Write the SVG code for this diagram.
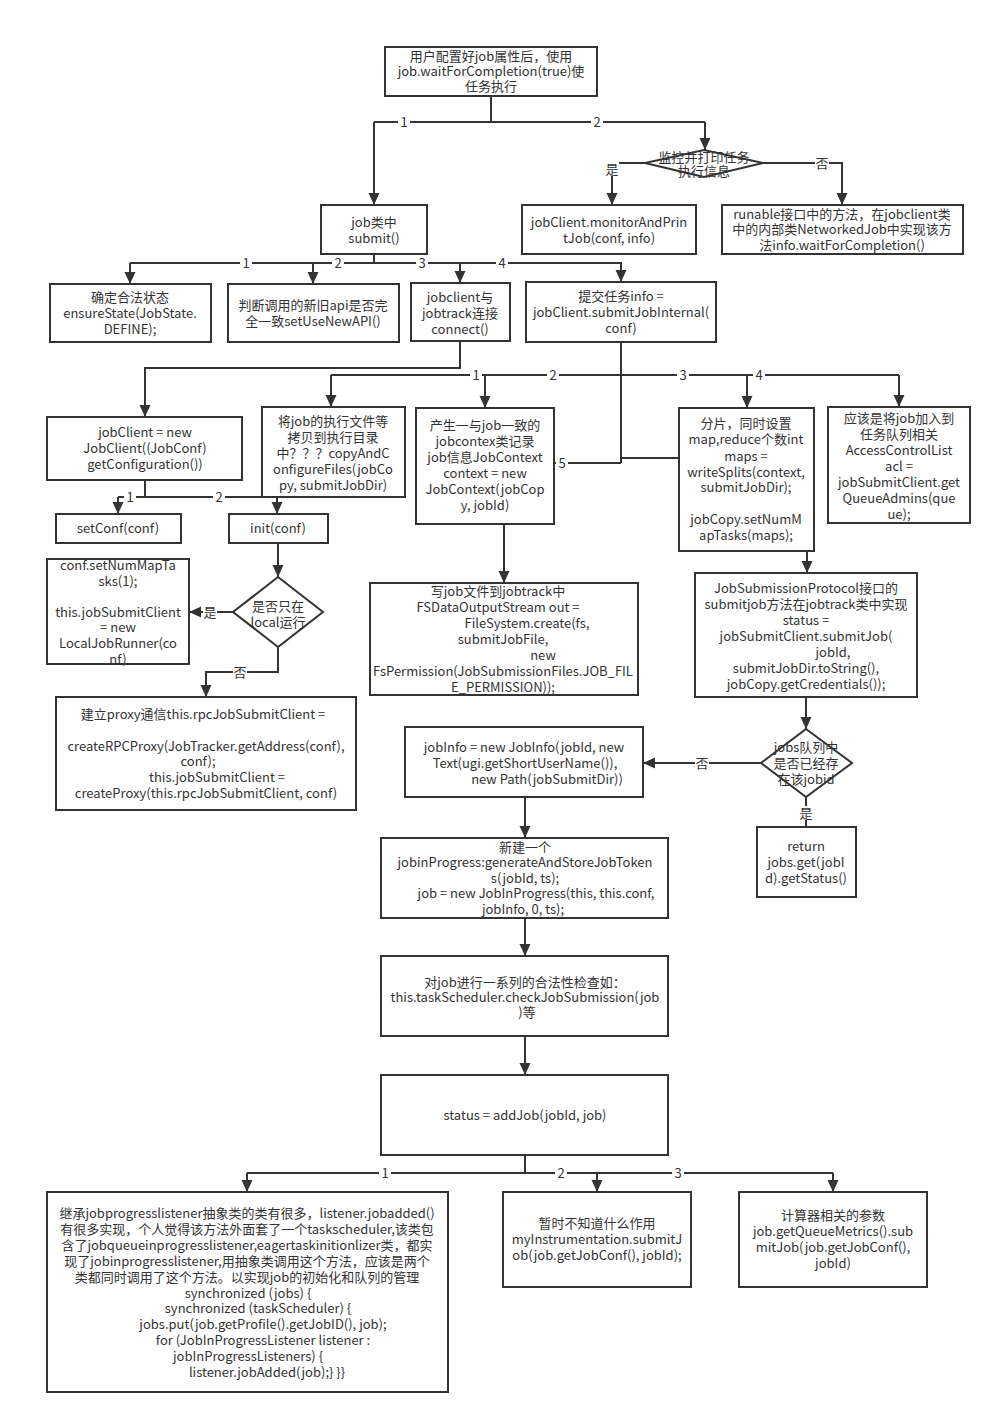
<svg xmlns="http://www.w3.org/2000/svg" width="1002" height="1424" viewBox="0 0 1002 1424">
<defs>
<marker id="ah" viewBox="0 0 12 14" refX="12" refY="7" markerWidth="12" markerHeight="14" orient="auto" markerUnits="userSpaceOnUse"><path d="M0,1.5 L12,7 L0,12.5 z" fill="#333"/></marker>
<style>
.b{fill:#fff;stroke:#333;stroke-width:2}
.t{font-family:"Noto Sans CJK SC","Noto Sans",sans-serif;font-size:13px;fill:#333;text-anchor:middle}
.c{fill:none;stroke:#333;stroke-width:2}
.a{fill:none;stroke:#333;stroke-width:2;marker-end:url(#ah)}
.lb{fill:#fff}
</style>
</defs>
<rect width="1002" height="1424" fill="#fff"/>

<g id="connectors">
<path class="c" d="M491,96 V122 M374,122 H705"/>
<path class="a" d="M374,122 V205"/>
<path class="a" d="M705,122 V150"/>
<path class="a" d="M645,163 H612 V205"/>
<path class="a" d="M763,163 H842 V205"/>
<path class="c" d="M374,254 V263 M130,263 H622"/>
<path class="a" d="M130,263 V284"/>
<path class="a" d="M313,263 V284"/>
<path class="a" d="M460,263 V283"/>
<path class="a" d="M621,263 V282"/>
<path class="a" d="M460,342 V368 H145 V417"/>
<path class="c" d="M621,342 V463 M331,375 H899"/>
<path class="a" d="M331,375 V407"/>
<path class="a" d="M485,375 V408"/>
<path class="a" d="M747,375 V408"/>
<path class="a" d="M899,375 V407"/>
<path class="a" d="M621,463 H504 V583"/>
<path class="a" d="M621,458 H807 V573"/>
<path class="c" d="M145,480 V497 M118,497 H277"/>
<path class="a" d="M118,497 V514"/>
<path class="a" d="M277,497 V514"/>
<path class="a" d="M278,543 V577"/>
<path class="a" d="M233,612 H189"/>
<path class="a" d="M278,647 V672 H206 V697"/>
<path class="a" d="M806,697 V729"/>
<path class="a" d="M761,763 H643"/>
<path class="c" d="M806,797 V827"/>
<path class="a" d="M525,797 V838"/>
<path class="a" d="M525,918 V956"/>
<path class="a" d="M525,1036 V1075"/>
<path class="c" d="M525,1155 V1173 M247,1173 H833"/>
<path class="a" d="M247,1173 V1192"/>
<path class="a" d="M597,1173 V1192"/>
<path class="a" d="M833,1173 V1192"/>
<g id="labels">
<rect class="lb" x="398" y="115" width="12" height="14"/><text class="t" x="404" y="126.5">1</text>
<rect class="lb" x="591" y="115" width="12" height="14"/><text class="t" x="597" y="126.5">2</text>
<rect class="lb" x="605" y="162" width="14" height="14"/><text class="t" x="612" y="173.5">是</text>
<rect class="lb" x="815" y="156" width="14" height="14"/><text class="t" x="822" y="167.5">否</text>
<rect class="lb" x="240" y="256" width="12" height="14"/><text class="t" x="246" y="267.5">1</text>
<rect class="lb" x="332" y="256" width="12" height="14"/><text class="t" x="338" y="267.5">2</text>
<rect class="lb" x="416" y="256" width="12" height="14"/><text class="t" x="422" y="267.5">3</text>
<rect class="lb" x="496" y="256" width="12" height="14"/><text class="t" x="502" y="267.5">4</text>
<rect class="lb" x="470" y="368" width="12" height="14"/><text class="t" x="476" y="379.5">1</text>
<rect class="lb" x="547" y="368" width="12" height="14"/><text class="t" x="553" y="379.5">2</text>
<rect class="lb" x="677" y="368" width="12" height="14"/><text class="t" x="683" y="379.5">3</text>
<rect class="lb" x="753" y="368" width="12" height="14"/><text class="t" x="759" y="379.5">4</text>
<rect class="lb" x="556" y="456" width="12" height="14"/><text class="t" x="562" y="467.5">5</text>
<rect class="lb" x="706" y="451" width="12" height="14"/><text class="t" x="712" y="462.5">6</text>
<rect class="lb" x="124" y="490" width="12" height="14"/><text class="t" x="130" y="501.5">1</text>
<rect class="lb" x="213" y="490" width="12" height="14"/><text class="t" x="219" y="501.5">2</text>
<rect class="lb" x="203" y="605" width="14" height="14"/><text class="t" x="210" y="616.5">是</text>
<rect class="lb" x="233" y="665" width="14" height="14"/><text class="t" x="240" y="676.5">否</text>
<rect class="lb" x="695" y="756" width="14" height="14"/><text class="t" x="702" y="767.5">否</text>
<rect class="lb" x="799" y="806" width="14" height="14"/><text class="t" x="806" y="817.5">是</text>
<rect class="lb" x="379" y="1166" width="12" height="14"/><text class="t" x="385" y="1177.5">1</text>
<rect class="lb" x="555" y="1166" width="12" height="14"/><text class="t" x="561" y="1177.5">2</text>
<rect class="lb" x="672" y="1166" width="12" height="14"/><text class="t" x="678" y="1177.5">3</text>
</g>
</g>

<g id="n_start"><rect class="b" x="385" y="47" width="212" height="49"/>
<text class="t" x="491" y="61">用户配置好job属性后，使用</text>
<text class="t" x="491" y="76">job.waitForCompletion(true)使</text>
<text class="t" x="491" y="91">任务执行</text></g>

<g id="n_monitor_dec"><polygon class="b" points="645,163 704,150 763,163 704,177"/>
<text class="t" x="704" y="162">监控并打印任务</text>
<text class="t" x="704" y="176">执行信息</text></g>

<g id="n_submit"><rect class="b" x="321" y="205" width="106" height="49"/>
<text class="t" x="374" y="226.5">job类中</text>
<text class="t" x="374" y="242.5">submit()</text></g>

<g id="n_monitor"><rect class="b" x="522" y="205" width="174" height="49"/>
<text class="t" x="609" y="226.5">jobClient.monitorAndPrin</text>
<text class="t" x="609" y="242.5">tJob(conf, info)</text></g>

<g id="n_runable"><rect class="b" x="722" y="205" width="241" height="49"/>
<text class="t" x="842" y="218.5">runable接口中的方法，在jobclient类</text>
<text class="t" x="842" y="234">中的内部类NetworkedJob中实现该方</text>
<text class="t" x="842" y="249.5">法info.waitForCompletion()</text></g>

<g id="n_ensure"><rect class="b" x="50" y="284" width="161" height="58"/>
<text class="t" x="130" y="301.5">确定合法状态</text>
<text class="t" x="130" y="317.5">ensureState(JobState.</text>
<text class="t" x="130" y="333.5">DEFINE);</text></g>

<g id="n_newapi"><rect class="b" x="228" y="284" width="171" height="58"/>
<text class="t" x="313" y="309.5">判断调用的新旧api是否完</text>
<text class="t" x="313" y="325.5">全一致setUseNewAPI()</text></g>

<g id="n_connect"><rect class="b" x="411" y="283" width="99" height="58"/>
<text class="t" x="460" y="301.5">jobclient与</text>
<text class="t" x="460" y="317.5">jobtrack连接</text>
<text class="t" x="460" y="333.5">connect()</text></g>

<g id="n_internal"><rect class="b" x="526" y="282" width="190" height="60"/>
<text class="t" x="621" y="300.5">提交任务info =</text>
<text class="t" x="621" y="316.5">jobClient.submitJobInternal(</text>
<text class="t" x="621" y="332.5">conf)</text></g>

<g id="n_jobclient"><rect class="b" x="47" y="417" width="195" height="63"/>
<text class="t" x="145" y="436.5">jobClient = new</text>
<text class="t" x="145" y="452.5">JobClient((JobConf)</text>
<text class="t" x="145" y="468.5">getConfiguration())</text></g>

<g id="n_copy"><rect class="b" x="262" y="407" width="143" height="90"/>
<text class="t" x="333" y="426">将job的执行文件等</text>
<text class="t" x="333" y="441.5">拷贝到执行目录</text>
<text class="t" x="333" y="457.5">中？？？copyAndC</text>
<text class="t" x="333" y="473.5">onfigureFiles(jobCo</text>
<text class="t" x="333" y="489.5">py, submitJobDir)</text></g>

<g id="n_contex"><rect class="b" x="416" y="408" width="138" height="116"/>
<text class="t" x="485" y="429.5">产生一与job一致的</text>
<text class="t" x="485" y="445.5">jobcontex类记录</text>
<text class="t" x="485" y="461.5">job信息JobContext</text>
<text class="t" x="485" y="477.5">context = new</text>
<text class="t" x="485" y="493.5">JobContext(jobCop</text>
<text class="t" x="485" y="509.5">y, jobId)</text></g>

<g id="n_splits"><rect class="b" x="679" y="408" width="135" height="143"/>
<text class="t" x="746" y="427.5">分片，同时设置</text>
<text class="t" x="746" y="443.5">map,reduce个数int</text>
<text class="t" x="746" y="460.5">maps =</text>
<text class="t" x="746" y="476.5">writeSplits(context,</text>
<text class="t" x="746" y="491.5">submitJobDir);</text>
<text class="t" x="746" y="523.5">jobCopy.setNumM</text>
<text class="t" x="746" y="539.5">apTasks(maps);</text></g>

<g id="n_acl"><rect class="b" x="828" y="407" width="142" height="116"/>
<text class="t" x="899" y="422.5">应该是将job加入到</text>
<text class="t" x="899" y="438.5">任务队列相关</text>
<text class="t" x="899" y="454.5">AccessControlList</text>
<text class="t" x="899" y="470.5">acl =</text>
<text class="t" x="899" y="486.5">jobSubmitClient.get</text>
<text class="t" x="899" y="502.5">QueueAdmins(que</text>
<text class="t" x="899" y="518.5">ue);</text></g>

<g id="n_setconf"><rect class="b" x="56" y="514" width="125" height="29"/>
<text class="t" x="118" y="532.5">setConf(conf)</text></g>

<g id="n_init"><rect class="b" x="229" y="514" width="99" height="29"/>
<text class="t" x="278" y="532.5">init(conf)</text></g>

<g id="n_local"><rect class="b" x="47" y="559" width="142" height="105"/>
<text class="t" x="118" y="569.5">conf.setNumMapTa</text>
<text class="t" x="118" y="585.5">sks(1);</text>
<text class="t" x="118" y="616.5">this.jobSubmitClient</text>
<text class="t" x="118" y="632">= new</text>
<text class="t" x="118" y="647.5">LocalJobRunner(co</text>
<text class="t" x="118" y="663.5">nf)</text></g>

<g id="n_local_dec"><polygon class="b" points="278,577 323,612 278,647 233,612"/>
<text class="t" x="278" y="610.5">是否只在</text>
<text class="t" x="278" y="626.5">local运行</text></g>

<g id="n_proxy"><rect class="b" x="56" y="697" width="300" height="113"/>
<text class="t" x="203" y="718.5">建立proxy通信this.rpcJobSubmitClient =</text>
<text class="t" x="206" y="750.5">createRPCProxy(JobTracker.getAddress(conf),</text>
<text class="t" x="198" y="765.5">conf);</text>
<text class="t" x="217" y="781.5">this.jobSubmitClient =</text>
<text class="t" x="206" y="797.5">createProxy(this.rpcJobSubmitClient, conf)</text></g>

<g id="n_write"><rect class="b" x="370" y="583" width="268" height="112"/>
<text class="t" x="498" y="595.5">写job文件到jobtrack中</text>
<text class="t" x="498" y="611.5">FSDataOutputStream out =</text>
<text class="t" x="527" y="627.5">FileSystem.create(fs,</text>
<text class="t" x="503" y="643.5">submitJobFile,</text>
<text class="t" x="543" y="659.5">new</text>
<text class="t" x="503" y="675.5">FsPermission(JobSubmissionFiles.JOB_FIL</text>
<text class="t" x="503" y="691.5">E_PERMISSION));</text></g>

<g id="n_protocol"><rect class="b" x="695" y="573" width="222" height="124"/>
<text class="t" x="806" y="592.5">JobSubmissionProtocol接口的</text>
<text class="t" x="806" y="608.5">submitjob方法在jobtrack类中实现</text>
<text class="t" x="806" y="624.5">status =</text>
<text class="t" x="806" y="640.5">jobSubmitClient.submitJob(</text>
<text class="t" x="833" y="656.5">jobId,</text>
<text class="t" x="806" y="672.5">submitJobDir.toString(),</text>
<text class="t" x="806" y="688.5">jobCopy.getCredentials());</text></g>

<g id="n_exists_dec"><polygon class="b" points="806,729 852,763 806,797 761,763"/>
<text class="t" x="806" y="751.5">jobs队列中</text>
<text class="t" x="806" y="767.5">是否已经存</text>
<text class="t" x="806" y="783.5">在该jobid</text></g>

<g id="n_return"><rect class="b" x="757" y="827" width="99" height="70"/>
<text class="t" x="806" y="850.5">return</text>
<text class="t" x="806" y="866.5">jobs.get(jobI</text>
<text class="t" x="806" y="882.5">d).getStatus()</text></g>

<g id="n_jobinfo"><rect class="b" x="405" y="727" width="238" height="70"/>
<text class="t" x="524" y="751.5">jobInfo = new JobInfo(jobId, new</text>
<text class="t" x="525" y="767.5">Text(ugi.getShortUserName()),</text>
<text class="t" x="547" y="783.5">new Path(jobSubmitDir))</text></g>

<g id="n_jip"><rect class="b" x="381" y="838" width="287" height="80"/>
<text class="t" x="525" y="851.5">新建一个</text>
<text class="t" x="525" y="866.5">jobinProgress:generateAndStoreJobToken</text>
<text class="t" x="525" y="882.5">s(jobId, ts);</text>
<text class="t" x="536" y="897.5">job = new JobInProgress(this, this.conf,</text>
<text class="t" x="523" y="913.5">jobInfo, 0, ts);</text></g>

<g id="n_check"><rect class="b" x="381" y="956" width="287" height="80"/>
<text class="t" x="525" y="986.5">对job进行一系列的合法性检查如：</text>
<text class="t" x="525" y="1001.5">this.taskScheduler.checkJobSubmission(job</text>
<text class="t" x="527" y="1016.5">)等</text></g>

<g id="n_addjob"><rect class="b" x="381" y="1075" width="287" height="80"/>
<text class="t" x="525" y="1119.5">status = addJob(jobId, job)</text></g>

<g id="n_listener"><rect class="b" x="47" y="1192" width="401" height="200"/>
<text class="t" x="247" y="1217.5">继承jobprogresslistener抽象类的类有很多，listener.jobadded()</text>
<text class="t" x="247" y="1233.5">有很多实现，个人觉得该方法外面套了一个taskscheduler,该类包</text>
<text class="t" x="247" y="1249.5">含了jobqueueinprogresslistener,eagertaskinitionlizer类，都实</text>
<text class="t" x="247" y="1265.5">现了jobinprogresslistener,用抽象类调用这个方法，应该是两个</text>
<text class="t" x="247" y="1281.5">类都同时调用了这个方法。以实现job的初始化和队列的管理</text>
<text class="t" x="248" y="1297.5">synchronized (jobs) {</text>
<text class="t" x="258" y="1312.5">synchronized (taskScheduler) {</text>
<text class="t" x="263" y="1328.5">jobs.put(job.getProfile().getJobID(), job);</text>
<text class="t" x="263" y="1344.5">for (JobInProgressListener listener :</text>
<text class="t" x="248" y="1360.5">jobInProgressListeners) {</text>
<text class="t" x="267" y="1376.5">listener.jobAdded(job);} }}</text></g>

<g id="n_instr"><rect class="b" x="503" y="1192" width="188" height="95"/>
<text class="t" x="597" y="1227.5">暂时不知道什么作用</text>
<text class="t" x="597" y="1243.5">myInstrumentation.submitJ</text>
<text class="t" x="597" y="1259.5">ob(job.getJobConf(), jobId);</text></g>

<g id="n_metrics"><rect class="b" x="739" y="1192" width="188" height="95"/>
<text class="t" x="833" y="1219.5">计算器相关的参数</text>
<text class="t" x="833" y="1236">job.getQueueMetrics().sub</text>
<text class="t" x="833" y="1252">mitJob(job.getJobConf(),</text>
<text class="t" x="833" y="1268">jobId)</text></g>
</svg>
